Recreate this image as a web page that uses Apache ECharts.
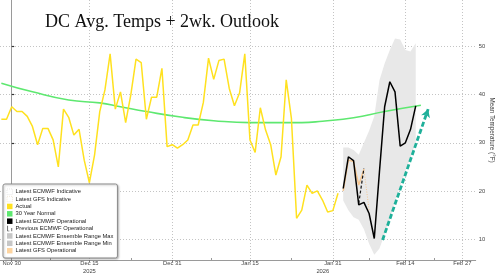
<!DOCTYPE html>
<html><head><meta charset="utf-8">
<script src="https://cdn.jsdelivr.net/npm/echarts@6/dist/echarts.min.js"></script>
<style>html,body{margin:0;padding:0;background:#fff}#c{width:500px;height:274px}</style>
</head><body><div id="c"></div>
<script>
// ---- data (x = days since Nov 30, 2025) ----
const chartTitle = 'DC Avg. Temps + 2wk. Outlook';
const yAxisName = 'Mean Temperature (°F)';
const tickDays = [0, 15, 31, 46, 62, 76, 87];
const tickLabels = ['Nov 30', 'Dec 15', 'Dec 31', 'Jan 15', 'Jan 31', 'Feb 14', 'Feb 27'];
const yearLabels = ['', '2025', '', '', '2026', '', ''];
const minorTickDays = [7.5, 23, 38.5, 54, 69, 81.5];
const yTicks = [10, 20, 30, 40, 50];

const actualStartDay = -2;
const actual = [34.9, 34.9, 37.5, 36.5, 36.5, 35.5, 33.4, 29.6, 33.0, 33.0, 30.6, 25.0, 37.0, 35.3, 31.6, 32.8,
  26.4, 21.7, 27.5, 36.5, 41.0, 48.5, 37.0, 40.6, 34.2, 40.0, 47.4, 46.7, 34.9, 39.5, 39.5, 45.5,
  29.2, 29.6, 28.9, 29.6, 30.6, 33.7, 33.7, 38.4, 47.6, 43.2, 47.1, 47.4, 41.3, 37.7, 40.4, 48.5,
  30.6, 28.0, 37.3, 32.7, 29.6, 23.3, 27.1, 43.1, 35.1, 14.3, 16.0, 21.2, 19.5, 20.0, 18.1, 15.6, 15.9, 19.5];

const normalDays = [-2, 4, 11, 17, 21, 26, 33, 39, 46, 56, 60, 66, 72, 79];
const normalVals = [42.4, 40.6, 38.9, 38.3, 37.5, 36.5, 35.3, 34.6, 34.2, 34.2, 34.5, 35.2, 36.5, 37.8];

const ecmwfDays = [64, 65, 66, 67, 68, 69, 70, 71, 72, 73, 74, 75, 76, 77, 78];
const ecmwfOp = [20.5, 27.1, 26.3, 17.1, 17.6, 15.3, 10.1, 24.0, 37.5, 42.7, 40.6, 29.3, 30.0, 32.8, 37.7];

const prevEcmwfDays = [67, 68];
const prevEcmwf = [17.4, 24.7];

const gfsDays = [64, 65, 66, 67, 68];
const gfsOp = [20.0, 26.4, 26.1, 21.2, 24.5];

const gfsIndDays = [68, 69];
const gfsInd = [24.5, 16.0];

const ensDays = [64, 65, 66, 67, 68, 69, 70, 71, 72, 73, 74, 75, 76, 77, 78];
const ensMax = [29.0, 29.0, 28.5, 27.5, 30.0, 32.5, 35.5, 43.0, 46.5, 49.3, 51.7, 51.5, 49.3, 49.0, 50.7];
const ensMin = [18.0, 16.0, 14.5, 14.0, 12.0, 9.0, 6.7, 8.0, 11.0, 14.0, 18.0, 21.0, 24.0, 27.0, 30.0];

const arrowFrom = [71.6, 9.8];
const arrowTo = [80.4, 37.0];

// ---- build ----
const pairs = (xs, ys) => xs.map((x, i) => [x, ys[i]]);
const actualPairs = actual.map((v, i) => [actualStartDay + i, v]);

const FONT = 'Liberation Sans';
const chart = echarts.init(document.getElementById('c'), null, {renderer: 'canvas'});

const legendItems = [
  {name: 'Latest ECMWF Indicative', icon: 'rect', itemStyle: {color: '#ffffff', borderColor: '#d8d8d8', borderWidth: 0.6, borderType: [1, 1]}},
  {name: 'Latest GFS Indicative', icon: 'rect', itemStyle: {color: '#ffffff', borderColor: '#e8d8c0', borderWidth: 0.6, borderType: [1, 1]}},
  {name: 'Actual', icon: 'rect', itemStyle: {color: '#ffe11f', borderWidth: 0}},
  {name: '30 Year Normal', icon: 'rect', itemStyle: {color: '#5ee870', borderWidth: 0}},
  {name: 'Latest ECMWF Operational', icon: 'rect', itemStyle: {color: '#000000', borderWidth: 0}},
  {name: 'Previous ECMWF Operational', icon: 'path://M0,2h1v7h-1z M0,9h3v1h-3z M6,5h1v5h-1z', itemStyle: {color: '#333', borderWidth: 0}},
  {name: 'Latest ECMWF Ensemble Range Max', icon: 'rect', itemStyle: {color: '#c6c6c6', borderWidth: 0}},
  {name: 'Latest ECMWF Ensemble Range Min', icon: 'rect', itemStyle: {color: '#c6c6c6', borderWidth: 0}},
  {name: 'Latest GFS Operational', icon: 'rect', itemStyle: {color: '#fdd4a0', borderWidth: 0}}
];

const option = {
  animation: false,
  backgroundColor: '#ffffff',
  title: {
    text: chartTitle, left: 45, top: 13.5, padding: 0,
    textStyle: {fontFamily: 'Liberation Serif', fontSize: 18, fontWeight: 'normal', color: '#111'}
  },
  legend: {
    orient: 'vertical', left: 3, top: 184,
    padding: [4, 4, 3.6, 3.7],
    itemWidth: 5.5, itemHeight: 5.5, itemGap: 0,
    backgroundColor: '#ffffff', borderColor: '#8c8c8c', borderWidth: 1, borderRadius: 2,
    shadowColor: 'rgba(0,0,0,0.25)', shadowBlur: 2, shadowOffsetX: 1, shadowOffsetY: 1,
    textStyle: {fontFamily: FONT, fontSize: 5.8, color: '#222', lineHeight: 7.375, padding: [0, 0, 0, -2]},
    selectedMode: false,
    data: legendItems
  },
  grid: {left: 0, right: 24.3, top: 0, bottom: 14, containLabel: false, outerBoundsMode: 'none'},
  xAxis: [{
    type: 'value', min: -2.26, max: 89.58,
    axisLine: {show: true, lineStyle: {color: '#9a9a9a', width: 1}},
    axisTick: {show: true, length: 2, inside: false, customValues: tickDays, lineStyle: {color: '#777'}},
    axisLabel: {
      show: true, customValues: tickDays, margin: 0,
      fontFamily: FONT, fontSize: 5.8, color: '#444', lineHeight: 7.5,
      formatter: function (v) {
        const i = tickDays.indexOf(v);
        if (i < 0) return '';
        if (yearLabels[i] === '2026') return tickLabels[i] + '\n{y|' + yearLabels[i] + '}';
        return yearLabels[i] ? tickLabels[i] + '\n' + yearLabels[i] : tickLabels[i];
      },
      rich: {y: {fontFamily: FONT, fontSize: 5.8, color: '#444', padding: [0, 20, 0, 0], lineHeight: 7.5}}
    },
    splitLine: {show: true, lineStyle: {color: '#c4c4c4', width: 1, type: [1, 2]}}
  }, {
    type: 'value', min: -2.26, max: 89.58, gridIndex: 0, position: 'bottom',
    axisLine: {show: false},
    axisTick: {show: true, length: 2, inside: true, customValues: minorTickDays, lineStyle: {color: '#999'}},
    axisLabel: {show: false}, splitLine: {show: false}
  }],
  yAxis: {
    type: 'value', position: 'right', min: 5.63, max: 59.7,
    name: yAxisName, nameLocation: 'middle', nameRotate: -90, nameGap: 13, nameMoveOverlap: false,
    nameTextStyle: {fontFamily: FONT, fontSize: 6.3, color: '#333'},
    axisLine: {show: true, lineStyle: {color: '#9a9a9a', width: 1}},
    axisTick: {show: true, length: 2.5, customValues: yTicks, lineStyle: {color: '#333', width: 1.2}},
    axisLabel: {show: true, customValues: yTicks, margin: 3, fontFamily: FONT, fontSize: 5.8, color: '#444'},
    splitLine: {show: true, lineStyle: {color: '#c4c4c4', width: 1, type: [1, 2]}}
  },
  series: [
    {
      name: 'Latest ECMWF Ensemble Range Max', type: 'custom', z: 1, silent: true,
      data: [[ensDays[0], ensMax[0]]],
      renderItem: function (params, api) {
        if (params.dataIndex !== 0) return;
        const pts = [];
        for (let i = 0; i < ensDays.length; i++) pts.push(api.coord([ensDays[i], ensMax[i]]));
        for (let i = ensDays.length - 1; i >= 0; i--) pts.push(api.coord([ensDays[i], ensMin[i]]));
        return {type: 'polygon', shape: {points: pts}, style: {fill: '#e8e8e8'}};
      }
    },
    {
      name: 'Latest ECMWF Ensemble Range Min', type: 'line', z: 1, silent: true,
      data: pairs(ensDays, ensMin), symbol: 'none', lineStyle: {opacity: 0, width: 0}
    },
    {
      name: 'Latest ECMWF Indicative', type: 'line', data: [], symbol: 'none',
      lineStyle: {color: '#dddddd', width: 1, type: 'dotted'}
    },
    {
      name: '30 Year Normal', type: 'line', z: 3, smooth: true, symbol: 'none',
      data: pairs(normalDays, normalVals), lineStyle: {color: '#5ee870', width: 1.6}
    },
    {
      name: 'Actual', type: 'line', z: 4, symbol: 'none',
      data: actualPairs, lineStyle: {color: '#ffe11f', width: 1.5}
    },
    {
      name: 'Latest GFS Indicative', type: 'line', z: 4, symbol: 'none',
      data: pairs(gfsIndDays, gfsInd), lineStyle: {color: '#f3c896', width: 1, type: [1, 1.5]}
    },
    {
      name: 'Latest GFS Operational', type: 'line', z: 5, symbol: 'none',
      data: pairs(gfsDays, gfsOp), lineStyle: {color: '#f6c58e', width: 1.5}
    },
    {
      name: 'Previous ECMWF Operational', type: 'line', z: 6, symbol: 'none',
      data: pairs(prevEcmwfDays, prevEcmwf), lineStyle: {color: '#111', width: 1.2, type: [3, 2]}
    },
    {
      name: 'Latest ECMWF Operational', type: 'line', z: 7, symbol: 'none',
      data: pairs(ecmwfDays, ecmwfOp), lineStyle: {color: '#000', width: 1.5}
    },
    {
      name: 'trend', type: 'line', z: 8, data: [], symbol: 'none',
      markLine: {
        silent: true, symbol: ['none', 'arrow'], symbolSize: [7, 8], label: {show: false},
        lineStyle: {color: '#1fb09a', width: 2.8, type: [5, 2.5]},
        emphasis: {disabled: true},
        data: [[{coord: arrowFrom}, {coord: arrowTo}]]
      }
    }
  ]
};
chart.setOption(option);
</script>
</body></html>
